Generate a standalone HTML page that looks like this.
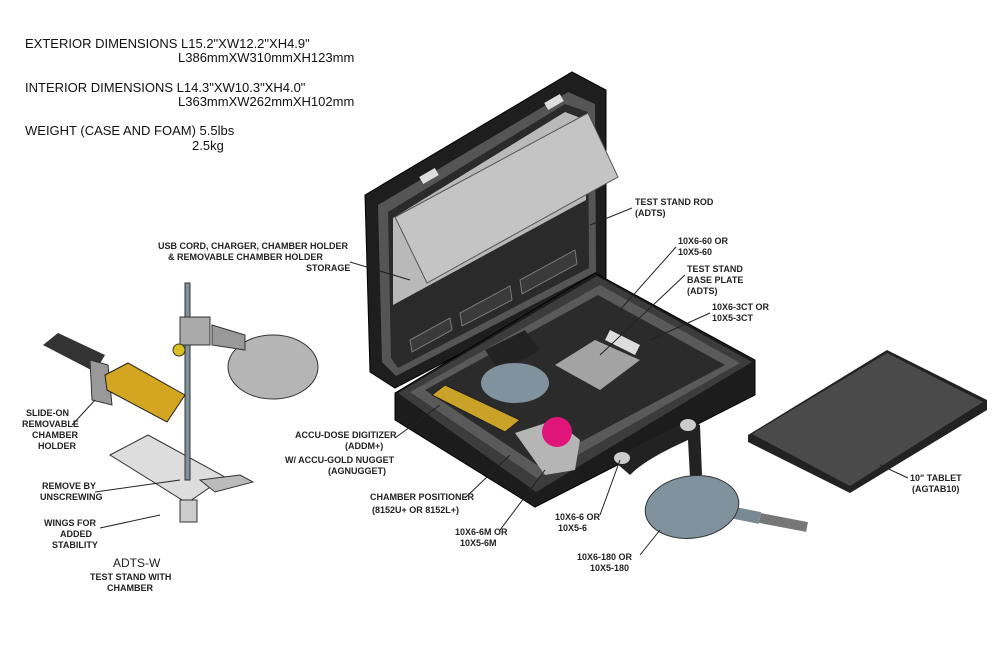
<!DOCTYPE html>
<html><head><meta charset="utf-8"><style>
body{margin:0;background:#fff}
svg{display:block}
.h{font-family:"Liberation Sans",sans-serif;font-size:13px;fill:#111}
.l{font-family:"Liberation Sans",sans-serif;font-size:9px;font-weight:bold;fill:#222}
.ln{stroke:#222;stroke-width:1;fill:none}
</style></head><body>
<svg width="1000" height="645" viewBox="0 0 1000 645" xmlns="http://www.w3.org/2000/svg">
<rect width="1000" height="645" fill="#fff"/>
<text class="h" x="25" y="48">EXTERIOR DIMENSIONS  L15.2"XW12.2"XH4.9"</text>
<text class="h" x="178" y="62">L386mmXW310mmXH123mm</text>
<text class="h" x="25" y="92">INTERIOR DIMENSIONS   L14.3"XW10.3"XH4.0"</text>
<text class="h" x="178" y="106">L363mmXW262mmXH102mm</text>
<text class="h" x="25" y="135">WEIGHT (CASE AND FOAM) 5.5lbs</text>
<text class="h" x="192" y="150">2.5kg</text>

<!-- case lid -->
<polygon points="365,195 572,72 606,90 606,278 395,388 370,372" fill="#1e1e1e" stroke="#000"/>
<polygon points="378,205 568,92 595,104 596,272 396,376 382,362" fill="#555"/>
<polygon points="388,212 565,104 588,112 589,268 398,368 391,358" fill="#2a2a2a"/>
<polygon points="393,218 565,112 586,120 586,200 393,305" fill="#b9b9b9"/>
<polygon points="395,217 588,113 618,177 427,283" fill="#c4c4c4" stroke="#555"/>
<g fill="#3a3a3a" stroke="#777"><polygon points="410,340 450,318 452,330 412,352"/><polygon points="460,313 510,286 512,300 462,326"/><polygon points="520,280 575,250 577,264 522,294"/></g>
<rect x="420" y="172" width="18" height="8" fill="#ddd" transform="rotate(-30 429 176)"/>
<rect x="545" y="98" width="18" height="8" fill="#ddd" transform="rotate(-30 554 102)"/>
<!-- base -->
<polygon points="395,393 595,273 755,360 755,395 535,507 395,420" fill="#1c1c1c" stroke="#000"/>
<polygon points="398,393 597,276 752,362 536,492" fill="#3c3c3c"/>
<polygon points="410,392 600,285 740,363 537,478" fill="#5a5a5a"/>
<polygon points="425,390 598,295 725,365 537,465" fill="#2b2b2b"/>
<polygon points="485,350 525,330 540,350 500,372" fill="#222"/>
<ellipse cx="515" cy="383" rx="34" ry="20" fill="#7f929d"/>
<polygon points="555,365 595,340 640,360 600,390" fill="#a3a3a3"/>
<polygon points="610,330 640,345 635,355 605,340" fill="#ddd"/>
<polygon points="432,395 445,385 520,420 505,432" fill="#c9a227" stroke="#222"/>
<polygon points="515,433 555,420 580,440 575,470 545,475" fill="#b5b5b5"/>
<circle cx="557" cy="432" r="15" fill="#e0157a"/>
<path d="M615,462 C625,450 650,440 690,420 L700,425 L702,475 L690,478 L688,440 C655,455 640,465 630,475 Z" fill="#222"/>
<ellipse cx="622" cy="458" rx="8" ry="6" fill="#ccc"/>
<ellipse cx="688" cy="425" rx="8" ry="6" fill="#ccc"/>

<!-- tablet -->
<polygon points="748,435 887,350 987,400 987,410 850,493 748,442" fill="#222"/>
<polygon points="752,434 887,353 983,402 850,486" fill="#4a4a4a"/>
<!-- paddle -->
<line x1="720" y1="510" x2="760" y2="518" stroke="#7a8a94" stroke-width="12"/>
<line x1="760" y1="518" x2="807" y2="527" stroke="#777" stroke-width="10"/>
<ellipse cx="692" cy="507" rx="47" ry="31" fill="#7f929d" stroke="#333" transform="rotate(-8 692 507)"/>

<!-- stand -->
<polygon points="110,455 148,435 225,477 187,503" fill="#ddd" stroke="#333"/>
<polygon points="200,480 240,475 253,482 215,492" fill="#bbb" stroke="#333"/>
<rect x="180" y="500" width="17" height="22" fill="#ccc" stroke="#333"/>
<rect x="185" y="283" width="5" height="197" fill="#7f929d" stroke="#333"/>
<ellipse cx="273" cy="367" rx="45" ry="32" fill="#b5b5b5" stroke="#333"/>
<polygon points="212,325 245,335 245,350 212,345" fill="#999" stroke="#333"/>
<rect x="180" y="317" width="30" height="28" fill="#aaa" stroke="#333"/>
<circle cx="179" cy="350" r="6" fill="#d8c020" stroke="#333"/>
<polygon points="43,345 58,333 105,355 95,372" fill="#333"/>
<polygon points="90,360 108,365 112,405 92,400" fill="#999" stroke="#333"/>
<polygon points="105,375 128,363 185,395 167,422 107,390" fill="#d4a520" stroke="#222"/>

<!-- labels -->
<g class="l">
<text x="158" y="249">USB CORD, CHARGER, CHAMBER HOLDER</text>
<text x="168" y="260">&amp; REMOVABLE CHAMBER HOLDER</text>
<text x="306" y="271">STORAGE</text>
<text x="635" y="205">TEST STAND ROD</text><text x="635" y="216">(ADTS)</text>
<text x="678" y="244">10X6-60 OR</text><text x="678" y="255">10X5-60</text>
<text x="687" y="272">TEST STAND</text><text x="687" y="283">BASE PLATE</text><text x="687" y="294">(ADTS)</text>
<text x="712" y="310">10X6-3CT OR</text><text x="712" y="321">10X5-3CT</text>
<text x="26" y="416">SLIDE-ON</text><text x="22" y="427">REMOVABLE</text><text x="32" y="438">CHAMBER</text><text x="38" y="449">HOLDER</text>
<text x="42" y="489">REMOVE BY</text><text x="40" y="500">UNSCREWING</text>
<text x="44" y="526">WINGS FOR</text><text x="60" y="537">ADDED</text><text x="52" y="548">STABILITY</text>
<text x="295" y="438">ACCU-DOSE DIGITIZER</text><text x="345" y="449">(ADDM+)</text>
<text x="285" y="463">W/ ACCU-GOLD NUGGET</text><text x="328" y="474">(AGNUGGET)</text>
<text x="370" y="500">CHAMBER POSITIONER</text><text x="372" y="513">(8152U+ OR 8152L+)</text>
<text x="455" y="535">10X6-6M OR</text><text x="460" y="546">10X5-6M</text>
<text x="555" y="520">10X6-6 OR</text><text x="558" y="531">10X5-6</text>
<text x="577" y="560">10X6-180 OR</text><text x="590" y="571">10X5-180</text>
<text x="910" y="481">10" TABLET</text><text x="912" y="492">(AGTAB10)</text>
</g>
<text x="113" y="567" style="font-family:'Liberation Sans',sans-serif;font-size:12px;fill:#222">ADTS-W</text>
<text x="90" y="580" class="l">TEST STAND WITH</text><text x="107" y="591" class="l">CHAMBER</text>
<g class="ln">
<path d="M632,208 L590,225"/><path d="M676,247 L620,310"/><path d="M685,275 L600,355"/>
<path d="M710,313 L650,340"/><path d="M350,262 L410,280"/><path d="M72,425 L95,400"/>
<path d="M95,492 L180,480"/><path d="M100,528 L160,515"/><path d="M395,438 L440,405"/>
<path d="M465,498 L510,455"/><path d="M500,530 L545,470"/><path d="M600,515 L620,460"/>
<path d="M640,555 L660,530"/><path d="M908,478 L880,465"/>
</g>
</svg>
</body></html>
